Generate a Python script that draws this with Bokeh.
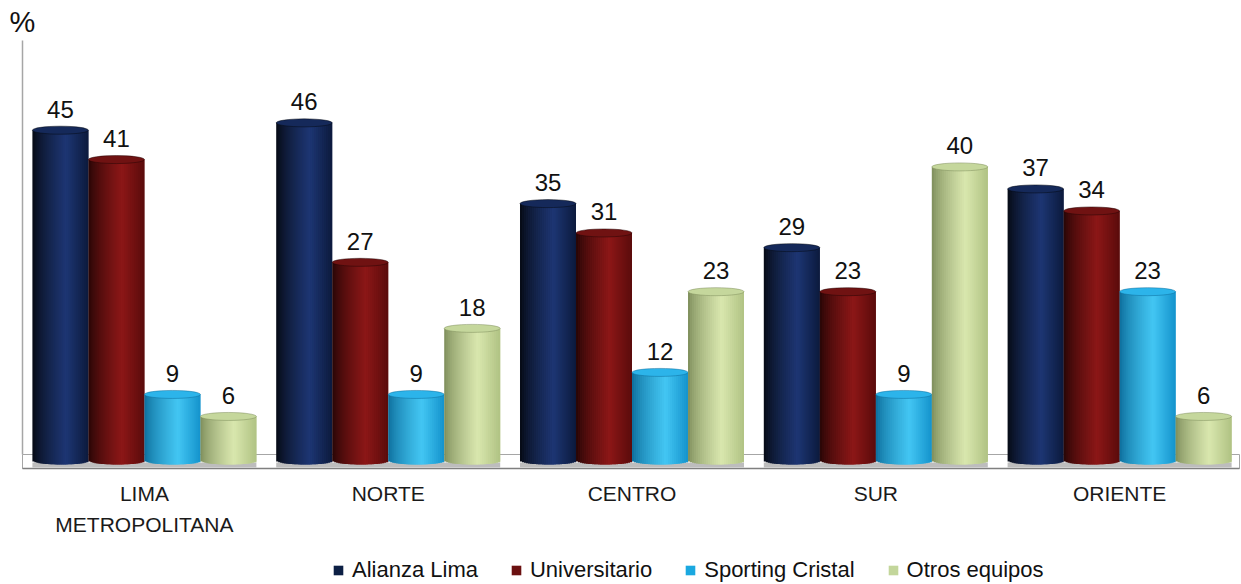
import numpy as np
from bokeh.plotting import figure
from bokeh.models import Range1d, Legend, LegendItem
from bokeh.core.properties import value
from bokeh.embed import file_html
from bokeh.resources import INLINE

# ---------------- data ----------------
categories = ["LIMA\nMETROPOLITANA", "NORTE", "CENTRO", "SUR", "ORIENTE"]
series_names = ["Alianza Lima", "Universitario", "Sporting Cristal", "Otros equipos"]
alianza = [45, 46, 35, 29, 37]
universitario = [41, 27, 31, 23, 34]
sporting = [9, 9, 12, 9, 23]
otros = [6, 18, 23, 40, 6]
y_unit = "%"

# ---------------- style ----------------
# (left edge, highlight, right edge, legend/base, top)
palettes = [
    ("#05080f", "#1d3673", "#0c1a3d", "#0c1f44", "#15295a"),
    ("#220505", "#8c1717", "#5a0b0b", "#6b1010", "#701212"),
    ("#0a6a98", "#43c6f3", "#1493cc", "#1aa8e0", "#2cb4ea"),
    ("#7a8a58", "#d9e7ae", "#b0c283", "#c3d69b", "#c5d79c"),
]
FONT = "Liberation Sans"
W, H = 1241, 584
PX_PER_X = 243.8          # screen px per category
PX_PER_Y = 7.34           # screen px per percent
X0_IMG, Y0_IMG = 22.0, 460.0  # screen coords of data origin

def xd(px):
    return (px - X0_IMG) / PX_PER_X

def yd(py):
    return (Y0_IMG - py) / PX_PER_Y

p = figure(width=W, height=H, output_backend="svg", toolbar_location=None,
           x_range=Range1d(xd(0), xd(W)),
           y_range=Range1d(yd(H), yd(0)),
           x_axis_location=None, y_axis_location=None,
           min_border=0, outline_line_color=None)
p.grid.visible = False
p.background_fill_color = "white"

# floor
p.quad(left=[0], right=[xd(1239)], bottom=[yd(468)], top=[yd(454)],
       fill_color="white", line_color="#a6a6a6", line_width=1)
p.segment(x0=[0], x1=[xd(1239)], y0=[yd(468)], y1=[yd(468)],
          line_color="#7f7f7f", line_width=1.5)

bar_w = 0.2297
offsets = [-1.5 * bar_w, -0.5 * bar_w, 0.5 * bar_w, 1.5 * bar_w]
values = [alianza, universitario, sporting, otros]
cat_x = np.arange(len(categories)) + 0.5

# shadows under bars
p.quad(left=cat_x - 2 * bar_w, right=cat_x + 2 * bar_w,
       bottom=[yd(467)] * len(cat_x), top=[yd(462)] * len(cat_x),
       fill_color="#bdbdbd", line_color=None)

# y axis line and unit
p.segment(x0=[0], x1=[0], y0=[yd(454)], y1=[yd(40)], line_color="#a6a6a6", line_width=1.5)
p.text(x=[xd(9)], y=[yd(21)], text=[y_unit], text_font=value(FONT),
       text_font_size="29px", text_color="#111111", text_baseline="alphabetic",
       text_align="left")

def hex2rgb(h):
    h = h.lstrip("#")
    return np.array([int(h[i:i + 2], 16) for i in (0, 2, 4)], dtype=float)

def rgb2hex(c):
    c = np.clip(np.round(c), 0, 255).astype(int)
    return "#%02x%02x%02x" % tuple(c)

def shade(pal, u):
    left, hi, right = hex2rgb(pal[0]), hex2rgb(pal[1]), hex2rgb(pal[2])
    if u < 0.6:
        t = (u / 0.6) ** 0.7
        return rgb2hex(left + (hi - left) * t)
    t = (u - 0.6) / 0.4
    return rgb2hex(hi + (right - hi) * t)

N = 28
ell_h = 8.0 / PX_PER_Y
dw = bar_w / N
legend_items = []
for s, (vals, pal, off) in enumerate(zip(values, palettes, offsets)):
    vals = np.array(vals, dtype=float)
    xc = cat_x + off
    xs, tops, bots, cols, ws = [], [], [], [], []
    for k in range(N):
        u = (k + 0.5) / N
        dx = (u - 0.5) * bar_w
        curve = (ell_h / 2) * np.sqrt(max(0.0, 1 - (2 * u - 1) ** 2))
        wk = dw if k == N - 1 else 2.0 * dw
        for i in range(len(vals)):
            xs.append(xc[i] + dx - dw / 2 + wk / 2)
            ws.append(wk)
            tops.append(vals[i])
            bots.append(-curve)
            cols.append(shade(pal, u))
    p.vbar(x=xs, top=tops, bottom=bots, width=ws, fill_color=cols, line_color=None)
    # top cap
    p.ellipse(x=xc, y=vals, width=bar_w, height=8, width_units="data", height_units="screen",
              fill_color=pal[4], line_color=pal[0], line_width=0.8, line_alpha=0.6)
    # value labels
    p.text(x=xc, y=vals + 21.0 / PX_PER_Y, text=[str(int(v)) for v in vals],
           text_font=value(FONT), text_font_size="24px", text_color="#111111",
           text_align="center", text_baseline="alphabetic")
    # legend proxy
    r = p.quad(left=[np.nan], right=[np.nan], bottom=[np.nan], top=[np.nan],
               fill_color=pal[3], line_color=None)
    legend_items.append(LegendItem(label=series_names[s], renderers=[r]))

# category labels
p.text(x=cat_x, y=[yd(481)] * len(cat_x), text=categories, text_font=value(FONT),
       text_font_size="21px", text_color="#1a1a1a", text_align="center",
       text_baseline="top", text_line_height=1.38)

legend = Legend(items=legend_items, orientation="horizontal",
                location=(332, 1), label_text_font=FONT, label_text_font_size="22px",
                label_text_color="#111111", glyph_width=12, glyph_height=12,
                label_standoff=8, spacing=32, padding=0, margin=0,
                border_line_color=None, background_fill_alpha=0)
p.add_layout(legend)

open("out.html", "w").write(file_html(p, INLINE))
